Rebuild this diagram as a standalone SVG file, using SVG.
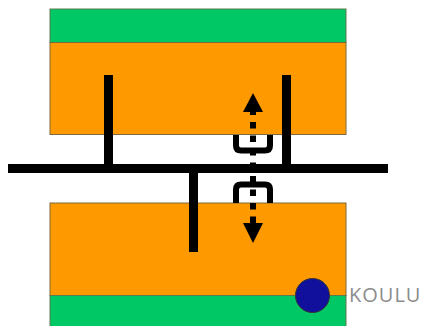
<svg xmlns="http://www.w3.org/2000/svg" width="424" height="326" viewBox="0 0 424 326">
<style>
.g{fill:#00c864;stroke:#5a7a50;stroke-width:1}
.o{fill:#ff9900;stroke:#7a6a40;stroke-width:1}
.w{fill:none;stroke:#000;stroke-width:9}
.c{fill:none;stroke:#000;stroke-width:6}
.d{fill:none;stroke:#000;stroke-width:6;stroke-dasharray:6.500 7}
.t{font-family:"Open Sans","Liberation Sans",sans-serif;font-size:20px;letter-spacing:1px;fill:#8c8c8c}
</style>
<rect width="424" height="326" fill="#fff"/>
<g id="upper-block">
<rect class="g" x="50" y="9" width="296" height="33.500"/>
<rect class="o" x="50" y="42.500" width="296" height="92"/>
</g>
<g id="lower-block">
<rect class="o" x="50" y="203" width="296" height="92.500"/>
<rect class="g" x="50" y="295.500" width="296" height="31"/>
</g>
<g id="connectors">
<path class="w" d="M8 168.500H388"/>
<path class="w" d="M108.500 75V168"/>
<path class="w" d="M286.500 75V168"/>
<path class="w" d="M193.500 168V252"/>
<path class="d" d="M253 108.500V224"/>
<path class="c" d="M236 135V145.500Q236 150.500 241 150.500H265Q270 150.500 270 145.500V135"/>
<path class="c" d="M236 203V189.500Q236 184.500 241 184.500H265Q270 184.500 270 189.500V203"/>
<path d="M253 93L243 112H263Z"/>
<path d="M253 243L243 223H263Z"/>
</g>
<g id="koulu">
<circle cx="312.500" cy="295.500" r="17" fill="#10109c" stroke="#333" stroke-width="1"/>
<text class="t" x="349" y="302">KOULU</text>
</g>
</svg>
